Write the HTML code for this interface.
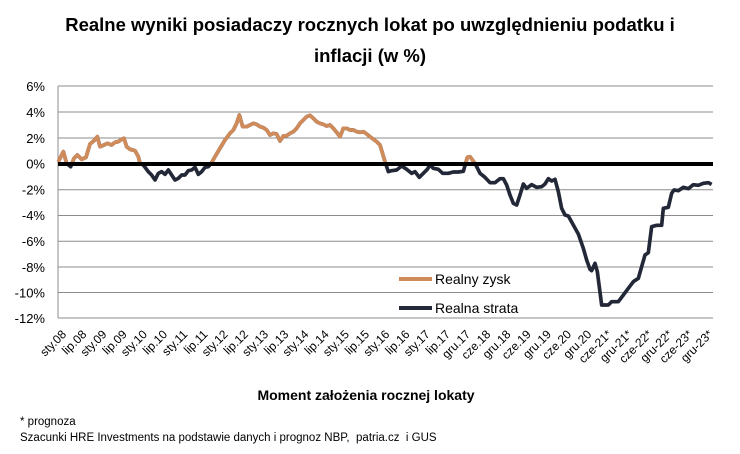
<!DOCTYPE html>
<html><head><meta charset="utf-8"><style>
body{margin:0;background:#fff;}
svg{display:block;font-family:"Liberation Sans",Arial,sans-serif;}
</style></head><body>
<svg width="740" height="454" viewBox="0 0 740 454" xmlns="http://www.w3.org/2000/svg">
<rect width="740" height="454" fill="#fff"/>
<text x="370" y="31" text-anchor="middle" font-size="18.5" font-weight="bold" fill="#000">Realne wyniki posiadaczy rocznych lokat po uwzględnieniu podatku i</text>
<text x="370" y="62" text-anchor="middle" font-size="18.5" font-weight="bold" fill="#000">inflacji (w %)</text>
<g stroke="#8c8c8c" stroke-width="1">
<line x1="58" y1="86" x2="713" y2="86"/><line x1="58" y1="112" x2="713" y2="112"/><line x1="58" y1="138" x2="713" y2="138"/>
<line x1="58" y1="189.7" x2="713" y2="189.7"/><line x1="58" y1="215.5" x2="713" y2="215.5"/><line x1="58" y1="241.3" x2="713" y2="241.3"/>
<line x1="58" y1="267" x2="713" y2="267"/><line x1="58" y1="292.5" x2="713" y2="292.5"/><line x1="58" y1="318" x2="713" y2="318"/>
<line x1="58" y1="86" x2="58" y2="318"/>
</g>
<g font-size="13" fill="#000" text-anchor="end">
<text x="45" y="91">6%</text><text x="45" y="117">4%</text><text x="45" y="143">2%</text><text x="45" y="168.5">0%</text>
<text x="45" y="194.5">-2%</text><text x="45" y="220">-4%</text><text x="45" y="246">-6%</text><text x="45" y="272">-8%</text>
<text x="45" y="297.5">-10%</text><text x="45" y="323">-12%</text>
</g>
<defs><clipPath id="pos"><rect x="0" y="0" width="740" height="164"/></clipPath></defs>
<g transform="translate(0,80) scale(0.33333)" fill="none" stroke-width="11" stroke-linejoin="round">
<polyline fill="none" stroke="#232838" points="175,245 190,215 200,250 212,260 222,235 232,225 245,238 258,232 270,192 282,182 292,170 300,200 312,195 322,190 335,195 345,187 355,185 365,178 372,175 380,200 390,208 405,212 415,230 420,250 430,255 445,275 455,285 465,300 475,280 485,275 495,283 505,270 515,285 525,300 535,295 545,285 555,285 565,272 575,270 585,262 595,283 605,275 615,262 625,260 635,248 645,230 660,205 675,180 690,160 700,150 710,130 718,105 728,140 740,140 750,135 760,130 770,133 780,140 790,143 800,150 810,165 820,160 830,162 840,183 850,168 860,167 870,160 880,155 890,145 900,130 910,120 920,110 930,106 940,115 950,125 960,130 970,133 980,138 990,135 1000,145 1010,157 1020,170 1030,145 1040,145 1050,150 1060,150 1070,155 1080,157 1090,155 1100,162 1110,170 1130,185 1140,195 1155,245 1165,275 1175,272 1190,270 1205,258 1220,268 1235,280 1245,275 1258,292 1270,280 1282,268 1290,255 1300,265 1315,268 1328,280 1345,280 1360,276 1375,276 1390,274 1402,232 1410,230 1425,250 1440,280 1455,292 1470,308 1485,308 1500,296 1510,296 1520,315 1530,345 1540,370 1550,375 1560,345 1570,312 1580,325 1595,314 1610,322 1625,320 1635,312 1645,296 1655,303 1665,298 1675,335 1685,385 1695,405 1705,408 1720,435 1735,462 1750,505 1760,540 1770,568 1775,572 1785,550 1792,575 1805,675 1825,675 1835,665 1855,665 1870,645 1885,625 1900,605 1915,595 1925,560 1935,525 1945,518 1955,440 1970,436 1985,436 1990,385 2005,382 2015,340 2022,330 2035,332 2050,322 2065,326 2080,314 2095,316 2110,310 2125,308 2135,313"/>
</g>
<g clip-path="url(#pos)">
<g transform="translate(0,80) scale(0.33333)" fill="none" stroke-width="11" stroke-linejoin="round">
<polyline fill="none" stroke="#d08b5a" points="175,245 190,215 200,250 212,260 222,235 232,225 245,238 258,232 270,192 282,182 292,170 300,200 312,195 322,190 335,195 345,187 355,185 365,178 372,175 380,200 390,208 405,212 415,230 420,250 430,255 445,275 455,285 465,300 475,280 485,275 495,283 505,270 515,285 525,300 535,295 545,285 555,285 565,272 575,270 585,262 595,283 605,275 615,262 625,260 635,248 645,230 660,205 675,180 690,160 700,150 710,130 718,105 728,140 740,140 750,135 760,130 770,133 780,140 790,143 800,150 810,165 820,160 830,162 840,183 850,168 860,167 870,160 880,155 890,145 900,130 910,120 920,110 930,106 940,115 950,125 960,130 970,133 980,138 990,135 1000,145 1010,157 1020,170 1030,145 1040,145 1050,150 1060,150 1070,155 1080,157 1090,155 1100,162 1110,170 1130,185 1140,195 1155,245 1165,275 1175,272 1190,270 1205,258 1220,268 1235,280 1245,275 1258,292 1270,280 1282,268 1290,255 1300,265 1315,268 1328,280 1345,280 1360,276 1375,276 1390,274 1402,232 1410,230 1425,250 1440,280"/>
</g>
</g>
<line x1="58" y1="164" x2="713" y2="164" stroke="#000" stroke-width="4"/>
<line x1="399" y1="279" x2="432" y2="279" stroke="#d08b5a" stroke-width="4"/>
<text x="435" y="284" font-size="14" fill="#000">Realny zysk</text>
<line x1="399" y1="308" x2="432" y2="308" stroke="#232838" stroke-width="4"/>
<text x="435" y="313" font-size="14" fill="#000">Realna strata</text>
<text x="366" y="400" text-anchor="middle" font-size="14" font-weight="bold" fill="#000">Moment założenia rocznej lokaty</text>
<text x="20" y="425" font-size="11.5" fill="#000">* prognoza</text>
<text x="20" y="441" font-size="11.5" fill="#000">Szacunki HRE Investments na podstawie danych i prognoz NBP,&#160; patria.cz&#160; i GUS</text>
<g font-size="12" fill="#000" text-anchor="end">
<text transform="translate(67,335) rotate(-45)">sty.08</text>
<text transform="translate(87.2,335) rotate(-45)">lip.08</text>
<text transform="translate(107.4,335) rotate(-45)">sty.09</text>
<text transform="translate(127.6,335) rotate(-45)">lip.09</text>
<text transform="translate(147.8,335) rotate(-45)">sty.10</text>
<text transform="translate(168,335) rotate(-45)">lip.10</text>
<text transform="translate(188.2,335) rotate(-45)">sty.11</text>
<text transform="translate(208.4,335) rotate(-45)">lip.11</text>
<text transform="translate(228.6,335) rotate(-45)">sty.12</text>
<text transform="translate(248.8,335) rotate(-45)">lip.12</text>
<text transform="translate(269,335) rotate(-45)">sty.13</text>
<text transform="translate(289.2,335) rotate(-45)">lip.13</text>
<text transform="translate(309.4,335) rotate(-45)">sty.14</text>
<text transform="translate(329.6,335) rotate(-45)">lip.14</text>
<text transform="translate(349.8,335) rotate(-45)">sty.15</text>
<text transform="translate(370,335) rotate(-45)">lip.15</text>
<text transform="translate(390.2,335) rotate(-45)">sty.16</text>
<text transform="translate(410.4,335) rotate(-45)">lip.16</text>
<text transform="translate(430.6,335) rotate(-45)">sty.17</text>
<text transform="translate(450.8,335) rotate(-45)">lip.17</text>
<text transform="translate(471,335) rotate(-45)">gru.17</text>
<text transform="translate(491.2,335) rotate(-45)">cze.18</text>
<text transform="translate(511.4,335) rotate(-45)">gru.18</text>
<text transform="translate(531.6,335) rotate(-45)">cze.19</text>
<text transform="translate(551.8,335) rotate(-45)">gru.19</text>
<text transform="translate(572,335) rotate(-45)">cze.20</text>
<text transform="translate(592.2,335) rotate(-45)">gru.20</text>
<text transform="translate(612.4,335) rotate(-45)">cze-21*</text>
<text transform="translate(632.6,335) rotate(-45)">gru-21*</text>
<text transform="translate(652.8,335) rotate(-45)">cze-22*</text>
<text transform="translate(673,335) rotate(-45)">gru-22*</text>
<text transform="translate(693.2,335) rotate(-45)">cze-23*</text>
<text transform="translate(713.4,335) rotate(-45)">gru-23*</text>
</g>
</svg>
</body></html>
